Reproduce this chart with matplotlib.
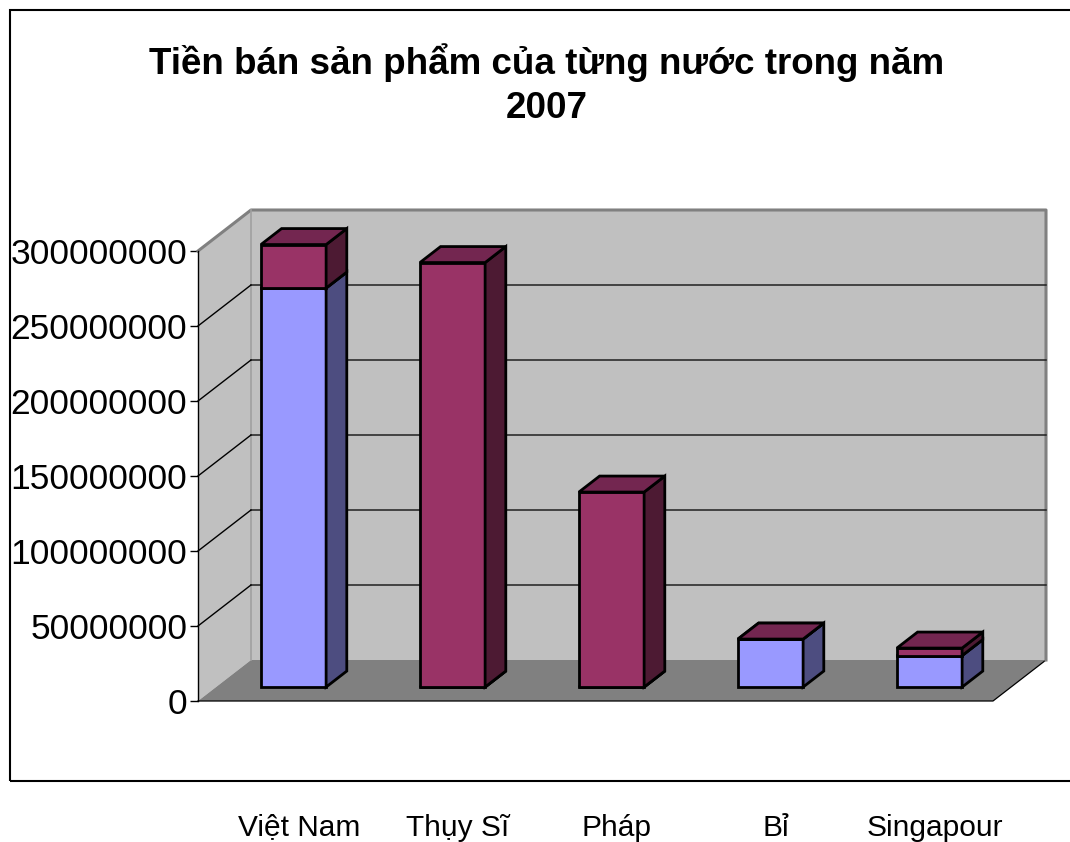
import matplotlib
matplotlib.use("Agg")
import matplotlib.pyplot as plt
from matplotlib.patches import Polygon, Rectangle
from matplotlib.lines import Line2D

# ---------------- data ----------------
categories = ["Việt Nam", "Thụy Sĩ", "Pháp", "Bỉ", "Singapour"]
series_blue = [266e6, 0, 0, 32e6, 21e6]
series_red = [29e6, 283e6, 130e6, 0, 5e6]
ytick_values = [0, 50e6, 100e6, 150e6, 200e6, 250e6, 300e6]
ytick_labels = ["0", "50000000", "100000000", "150000000",
                "200000000", "250000000", "300000000"]
title_line1 = "Tiền bán sản phẩm của từng nước trong năm"
title_line2 = "2007"

# ---------------- style ----------------
plt.rcParams['font.family'] = ['Liberation Sans', 'DejaVu Sans']
W, H = 1070, 842
fig = plt.figure(figsize=(W / 100, H / 100), dpi=100)
fig.patch.set_facecolor("white")

# outer chart frame (extends past right edge)
fig.patches.append(Rectangle((10 / W, (H - 781) / H), 1.2, (781 - 10) / H,
                             transform=fig.transFigure, fill=False,
                             ec="#000000", lw=1.5))

fig.text(547 / W, 1 - 63 / H, title_line1, ha="center", va="center",
         fontsize=26.5, fontweight="bold")
fig.text(547 / W, 1 - 109 / H, title_line2, ha="center", va="center",
         fontsize=26.5, fontweight="bold")

ax = fig.add_axes([198 / W, (H - 701) / H, 795 / W, 450 / H])
n = len(categories)
x0, x1 = -0.5, n - 0.5
ymax = ytick_values[-1]
ax.set_xlim(x0, x1)
ax.set_ylim(0, ymax)
ax.set_facecolor("none")

# depth (oblique projection) expressed in pixels, converted with the axes scale
depth_px_x, depth_px_y = 53, 41
px_per_x = 795 / (x1 - x0)
px_per_y = 450 / ymax
DX = depth_px_x / px_per_x
DY = depth_px_y / px_per_y

wall = "#c0c0c0"
floor = "#808080"
# left wall
ax.add_patch(Polygon([(x0, 0), (x0 + DX, DY), (x0 + DX, ymax + DY), (x0, ymax)],
                     closed=True, fc=wall, ec="none", zorder=1, clip_on=False))
# back wall
ax.add_patch(Polygon([(x0 + DX, DY), (x1 + DX, DY), (x1 + DX, ymax + DY), (x0 + DX, ymax + DY)],
                     closed=True, fc=wall, ec="none", zorder=1, clip_on=False))
# floor
ax.add_patch(Polygon([(x0, 0), (x1, 0), (x1 + DX, DY), (x0 + DX, DY)],
                     closed=True, fc=floor, ec="none", zorder=1, clip_on=False))
# floor edges
ax.add_line(Line2D([x0, x1, x1 + DX], [0, 0, DY], color="#000000", lw=0.9,
                   zorder=2, clip_on=False))
# wall outline (grey)
ax.add_line(Line2D([x0, x0 + DX, x1 + DX, x1 + DX], [ymax, ymax + DY, ymax + DY, DY],
                   color="#808080", lw=2.2, zorder=2, clip_on=False))
ax.add_line(Line2D([x0 + DX, x0 + DX], [DY, ymax + DY], color="#a0a0a0", lw=1.2,
                   zorder=2, clip_on=False))

# gridlines
for v in ytick_values[1:-1]:
    ax.add_line(Line2D([x0 + DX, x1 + DX], [v + DY, v + DY], color="#202020", lw=1.1,
                       zorder=2, clip_on=False))
    ax.add_line(Line2D([x0, x0 + DX], [v, v + DY], color="#000000", lw=1,
                       zorder=2, clip_on=False))

# bars
bar_w = 0.41
bar_shift = -2 / px_per_x
f0, f1 = 0.34, 0.73
colors_blue = ("#9999FF", "#4D4D80", "#7373BF")
colors_red = ("#993366", "#4D1A33", "#732650")
edge_lw = 2.0


def draw_box(xc, b, t, cols, z):
    xl, xr = xc + bar_shift - bar_w / 2, xc + bar_shift + bar_w / 2
    ax0, ay0 = f0 * DX, f0 * DY
    ax1, ay1 = f1 * DX, f1 * DY
    front = [(xl + ax0, b + ay0), (xr + ax0, b + ay0), (xr + ax0, t + ay0), (xl + ax0, t + ay0)]
    side = [(xr + ax0, b + ay0), (xr + ax1, b + ay1), (xr + ax1, t + ay1), (xr + ax0, t + ay0)]
    top = [(xl + ax0, t + ay0), (xr + ax0, t + ay0), (xr + ax1, t + ay1), (xl + ax1, t + ay1)]
    for poly, c in ((front, cols[0]), (side, cols[1]), (top, cols[2])):
        ax.add_patch(Polygon(poly, closed=True, fc=c, ec="black", lw=edge_lw,
                             joinstyle="miter", zorder=z, clip_on=False))


for i in range(n):
    b = 0
    t = series_blue[i]
    draw_box(i, b, t, colors_blue, 5 + i)
    draw_box(i, t, t + series_red[i], colors_red, 5 + i + 0.5)

# axes
for s in ("top", "right", "bottom"):
    ax.spines[s].set_visible(False)
ax.spines["left"].set_color("black")
ax.spines["left"].set_linewidth(1)
ax.spines["left"].set_zorder(3)
ax.set_yticks(ytick_values)
ax.set_yticklabels(ytick_labels)
ax.tick_params(axis="y", direction="out", length=5.8, width=1, pad=2,
               labelsize=25.5, colors="black")
ax.set_xticks([i + 0.4 * DX for i in range(n)])
ax.set_xticklabels(categories)
ax.tick_params(axis="x", length=0, pad=81, labelsize=21.5)

fig.savefig("out.png", dpi=100)
